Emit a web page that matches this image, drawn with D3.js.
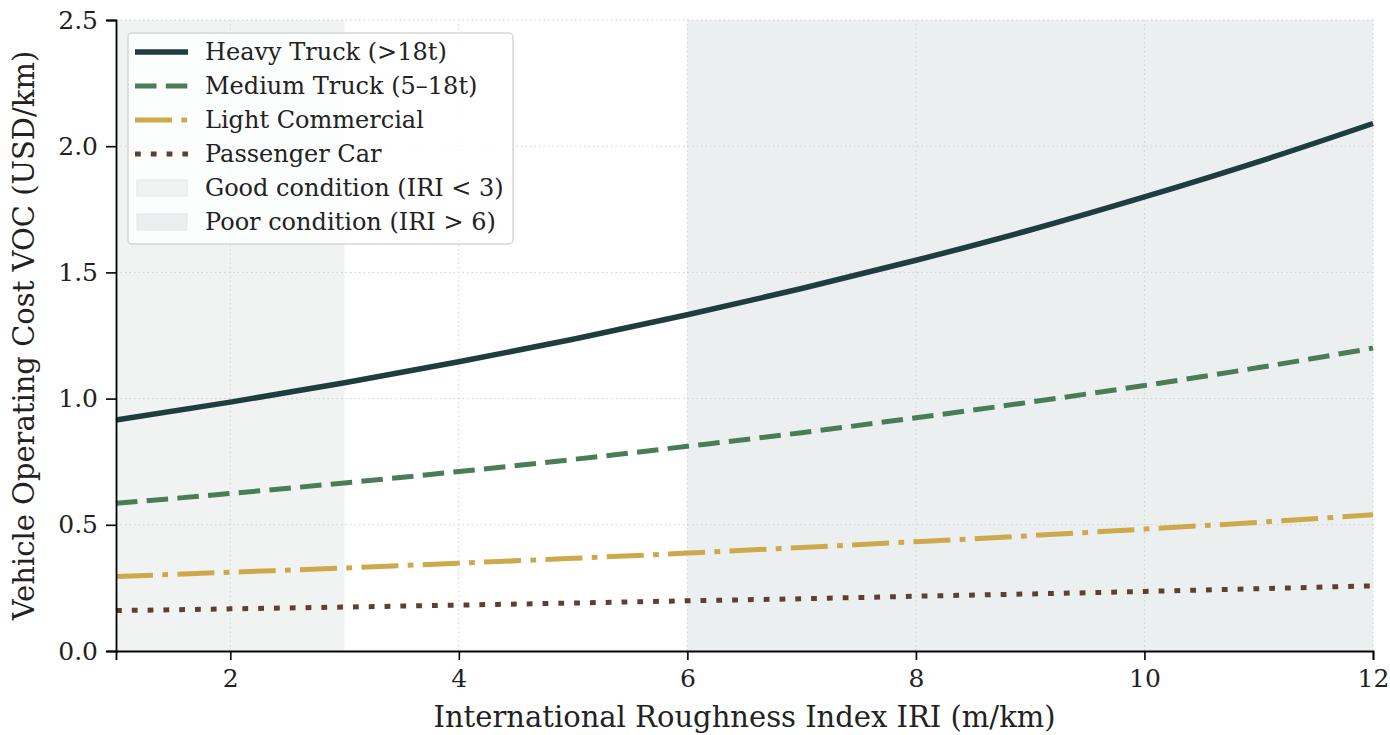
<!DOCTYPE html>
<html>
<head>
<meta charset="utf-8">
<script src="https://cdn.jsdelivr.net/npm/d3@7"></script>
<style>
  html, body { margin: 0; padding: 0; background: #fff; }
  svg { display: block; font-family: "DejaVu Serif", serif; }
</style>
</head>
<body>
<svg id="chart" width="1390" height="735"></svg>
<script>
// IRI sample points (m/km)
const iri = [1, 2, 3, 4, 5, 6, 7, 8, 9, 10, 11, 12];

// Vehicle operating cost by vehicle class (USD/km)
const heavyTruck  = [0.915, 0.986, 1.063, 1.146, 1.235, 1.332, 1.436, 1.548, 1.668, 1.799, 1.939, 2.090];
const mediumTruck = [0.585, 0.624, 0.666, 0.711, 0.759, 0.811, 0.865, 0.924, 0.986, 1.052, 1.123, 1.200];
const lightComm   = [0.295, 0.312, 0.329, 0.348, 0.367, 0.388, 0.410, 0.433, 0.457, 0.483, 0.510, 0.540];
const passenger   = [0.160, 0.167, 0.174, 0.182, 0.190, 0.199, 0.207, 0.217, 0.226, 0.236, 0.247, 0.258];

const seriesNames = ["Heavy Truck (>18t)", "Medium Truck (5\u201318t)", "Light Commercial", "Passenger Car"];
const bandNames = ["Good condition (IRI < 3)", "Poor condition (IRI > 6)"];
const goodBand = [1, 3];
const poorBand = [6, 12];

const xTicks = [2, 4, 6, 8, 10, 12];
const yTicks = [0.0, 0.5, 1.0, 1.5, 2.0, 2.5];

const seriesStyle = [
  { color: "#1e3d41", width: 5.5, dash: null },
  { color: "#4a7d57", width: 5, dash: "21.5,9.3" },
  { color: "#cda94c", width: 5, dash: "37,9.3,5.8,9.3" },
  { color: "#5c4033", width: 5, dash: "5.8,10" }
];
const seriesData = [heavyTruck, mediumTruck, lightComm, passenger];

const svg = d3.select("#chart");
const margin = { left: 116, right: 17, top: 20, bottom: 84 };
const W = 1390, H = 735;
const x = d3.scaleLinear().domain([1, 12]).range([margin.left, W - margin.right]);
const y = d3.scaleLinear().domain([0, 2.5]).range([H - margin.bottom, margin.top]);

// condition bands
svg.append("rect")
  .attr("x", x(goodBand[0])).attr("y", y(2.5))
  .attr("width", x(goodBand[1]) - x(goodBand[0])).attr("height", y(0) - y(2.5))
  .attr("fill", "#f1f3f3");
svg.append("rect")
  .attr("x", x(poorBand[0])).attr("y", y(2.5))
  .attr("width", x(poorBand[1]) - x(poorBand[0])).attr("height", y(0) - y(2.5))
  .attr("fill", "#ebeff0");

// grid
const grid = svg.append("g").attr("stroke", "#cfcfcf").attr("stroke-width", 1).attr("stroke-dasharray", "1.5,3");
xTicks.forEach(t => grid.append("line").attr("x1", x(t)).attr("x2", x(t)).attr("y1", y(0)).attr("y2", y(2.5)));
yTicks.filter(t => t > 0).forEach(t => grid.append("line").attr("x1", x(1)).attr("x2", x(12)).attr("y1", y(t)).attr("y2", y(t)));

// series lines
const line = d3.line().x((d, i) => x(iri[i])).y(d => y(d)).curve(d3.curveMonotoneX);
seriesData.forEach((vals, k) => {
  const s = seriesStyle[k];
  svg.append("path")
    .attr("d", line(vals))
    .attr("fill", "none")
    .attr("stroke", s.color)
    .attr("stroke-width", s.width)
    .attr("stroke-dasharray", s.dash)
    .attr("stroke-linecap", "butt")
    .attr("stroke-linejoin", "round");
});

// axes
const xAxis = d3.axisBottom(x).tickValues(xTicks).tickSize(9).tickPadding(9).tickFormat(d3.format("d"));
const yAxis = d3.axisLeft(y).tickValues(yTicks).tickSize(10).tickPadding(8).tickFormat(d3.format(".1f"));
const gx = svg.append("g").attr("transform", `translate(0,${y(0)})`).call(xAxis);
const gy = svg.append("g").attr("transform", `translate(${x(1)},0)`).call(yAxis);
[gx, gy].forEach(g => {
  g.select(".domain").attr("stroke", "#000").attr("stroke-width", 1.8);
  g.selectAll(".tick line").attr("stroke", "#000").attr("stroke-width", 1.6);
  g.selectAll(".tick text").attr("fill", "#222").attr("font-size", 25).attr("font-family", "DejaVu Serif");
});

// axis titles
svg.append("text")
  .attr("x", (x(1) + x(12)) / 2).attr("y", 727)
  .attr("text-anchor", "middle").attr("font-size", 29).attr("fill", "#222")
  .text("International Roughness Index IRI (m/km)");
svg.append("text")
  .attr("transform", `translate(34,${(y(0) + y(2.5)) / 2}) rotate(-90)`)
  .attr("text-anchor", "middle").attr("font-size", 29).attr("fill", "#222")
  .text("Vehicle Operating Cost VOC (USD/km)");

// legend
const lg = svg.append("g").attr("transform", "translate(128,33)");
lg.append("rect").attr("width", 385).attr("height", 211).attr("rx", 4)
  .attr("fill", "#ffffff").attr("fill-opacity", 0.8).attr("stroke", "#d6d6d6").attr("stroke-width", 1.5);
const rowY = i => 19 + i * 34;
seriesNames.forEach((name, i) => {
  const s = seriesStyle[i];
  lg.append("line").attr("x1", 7).attr("x2", 60).attr("y1", rowY(i)).attr("y2", rowY(i))
    .attr("stroke", s.color).attr("stroke-width", s.width).attr("stroke-dasharray", s.dash);
  lg.append("text").attr("x", 77).attr("y", rowY(i)).attr("dy", "0.35em")
    .attr("font-size", 24).attr("fill", "#222").text(name);
});
bandNames.forEach((name, j) => {
  const i = j + 4;
  lg.append("rect").attr("x", 9).attr("y", rowY(i) - 8).attr("width", 50).attr("height", 16)
    .attr("fill", j === 0 ? "#f1f3f3" : "#ebeff0").attr("stroke", "#e2e6e7").attr("stroke-width", 1);
  lg.append("text").attr("x", 77).attr("y", rowY(i)).attr("dy", "0.35em")
    .attr("font-size", 24).attr("fill", "#222").text(name);
});
</script>
</body>
</html>
